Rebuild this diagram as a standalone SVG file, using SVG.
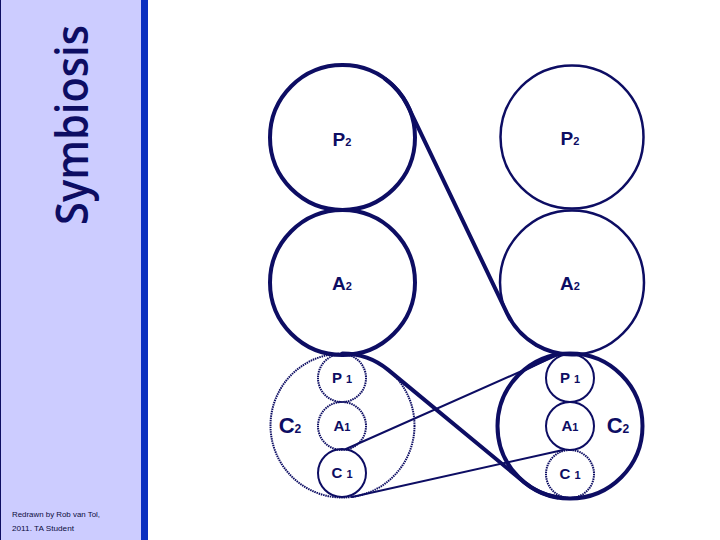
<svg xmlns="http://www.w3.org/2000/svg" width="720" height="540" viewBox="0 0 720 540">
<style>
.c{fill:none;stroke:#0d0d63}
.thick{stroke-width:4}
.mid{stroke-width:2.5}
.thin{stroke-width:2}
.dot{stroke-dasharray:1.5 0.8}
.lbl{font-family:"Liberation Sans",Arial,sans-serif;font-weight:bold;fill:#0d0d63;text-anchor:middle}
.conn{fill:none;stroke:#0d0d63;stroke-linejoin:round;stroke-linecap:round}
</style>
<rect width="720" height="540" fill="#ffffff"/>
<g id="sidebar">
<rect x="0" y="0" width="141" height="540" fill="#ccccff"/>
<rect x="141" y="0" width="7" height="540" fill="#0a2fc0"/>
<line x1="0.5" y1="0" x2="0.5" y2="540" stroke="#0d0d63" stroke-width="1"/>
<text transform="translate(88,225) rotate(-90)" font-family="'Open Sans','DejaVu Sans',sans-serif" font-size="46" font-weight="600" fill="#0d0d63" textLength="200" lengthAdjust="spacingAndGlyphs">Symbiosis</text>
<text x="12" y="517" font-family="'Liberation Sans',Arial,sans-serif" font-size="8" fill="#0d0d40" textLength="88" lengthAdjust="spacingAndGlyphs">Redrawn by Rob van Tol,</text>
<text x="12" y="531" font-family="'Liberation Sans',Arial,sans-serif" font-size="8" fill="#0d0d40" textLength="62" lengthAdjust="spacingAndGlyphs">2011. TA Student</text>
</g>
<g id="left-P2"><circle class="c thick" cx="342.5" cy="137.5" r="72.5"/><text class="lbl" x="342" y="146" font-size="19">P<tspan font-size="11">2</tspan></text></g>
<g id="left-A2"><circle class="c thick" cx="342.5" cy="282.5" r="72.5"/><text class="lbl" x="342" y="290" font-size="19">A<tspan font-size="11">2</tspan></text></g>
<g id="right-P2"><circle class="c mid" cx="572" cy="137" r="71.5"/><text class="lbl" x="570" y="145" font-size="19">P<tspan font-size="11">2</tspan></text></g>
<g id="right-A2"><circle class="c mid" cx="572" cy="282.5" r="72"/><text class="lbl" x="570" y="290" font-size="19">A<tspan font-size="11">2</tspan></text></g>
<g id="left-C2"><circle class="c thin dot" cx="342.5" cy="425.5" r="72"/><text class="lbl" x="290" y="433" font-size="22">C<tspan font-size="12">2</tspan></text></g>
<g id="left-P1"><circle class="c thin dot" cx="342" cy="378" r="24"/><text class="lbl" x="342" y="383" font-size="15">P <tspan font-size="11">1</tspan></text></g>
<g id="left-A1"><circle class="c thin dot" cx="342" cy="426" r="24"/><text class="lbl" x="342" y="431" font-size="15">A<tspan font-size="11">1</tspan></text></g>
<g id="left-C1"><circle class="c thin" cx="342" cy="473" r="24"/><text class="lbl" x="342" y="478" font-size="15">C <tspan font-size="11">1</tspan></text></g>
<g id="right-C2"><circle class="c thick" cx="570" cy="426" r="72.5"/><text class="lbl" x="618" y="433" font-size="22">C<tspan font-size="12">2</tspan></text></g>
<g id="right-P1"><circle class="c thin" cx="570" cy="378" r="24"/><text class="lbl" x="570" y="383" font-size="15">P <tspan font-size="11">1</tspan></text></g>
<g id="right-A1"><circle class="c thin" cx="570" cy="426" r="24"/><text class="lbl" x="570" y="431" font-size="15">A<tspan font-size="11">1</tspan></text></g>
<g id="right-C1"><circle class="c thin dot" cx="570" cy="474" r="24"/><text class="lbl" x="570" y="479" font-size="15">C <tspan font-size="11">1</tspan></text></g>
<g id="connectors">
<path class="conn" stroke-width="4" d="M385.1,78.8 A72.5,72.5 0 0 1 407.9,106.2 L507.1,313.3 A72,72 0 0 0 578.3,354.2"/>
<path class="conn" stroke-width="4" d="M342.5,353.5 A72,72 0 0 1 388.2,369.9 L523.9,482 A72.5,72.5 0 0 0 557.4,497.4"/>
<line class="conn" stroke-width="2" x1="346" y1="449" x2="560" y2="354"/>
<polygon fill="#0d0d63" points="512,378 547,355.5 562,353 549,359.5"/>
<line class="conn" stroke-width="2" x1="352" y1="497" x2="563" y2="450"/>
</g>
</svg>
